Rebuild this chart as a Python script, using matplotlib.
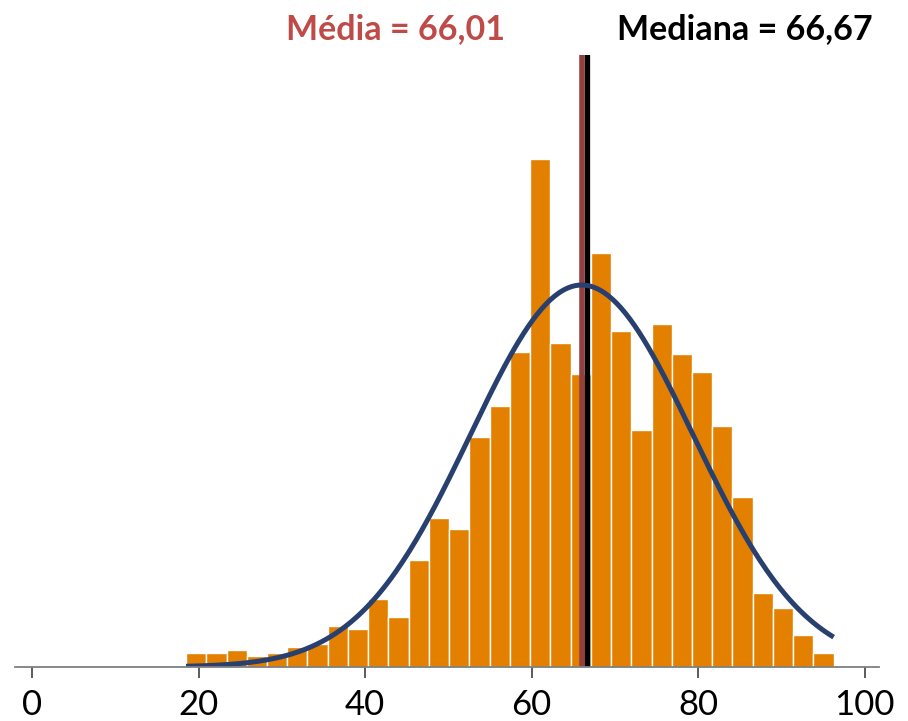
import numpy as np
import matplotlib
matplotlib.use("Agg")
import matplotlib.pyplot as plt

# histogram data
bin_start = 18.5
bin_width = 2.43
counts = [4.6, 4.6, 5.6, 3.6, 4.6, 6.6, 7.6, 13.6, 12.7, 22.6, 16.6, 35.8,
          49.8, 45.9, 76.7, 87.0, 105.0, 169.2, 107.9, 97.8, 138.0, 112.0,
          79.0, 114.2, 104.2, 98.2, 80.2, 56.6, 24.7, 19.6, 10.8, 4.6]

media = 66.01
mediana = 66.67
desvio = 13.4
n_curve = 1760

xticks = [0, 20, 40, 60, 80, 100]

plt.rcParams["font.family"] = ["Lato", "DejaVu Sans"]

fig = plt.figure(figsize=(9.08, 7.21), dpi=100)
ax = fig.add_axes([0.0165, 0.0749, 0.9515, 0.8488])

counts = np.asarray(counts)
lefts = bin_start + bin_width * np.arange(len(counts))
ax.bar(lefts, counts, width=bin_width, align="edge", color="#E38000",
       edgecolor="white", linewidth=1.0, zorder=2)

# normal curve over the range of the bins
xs = np.linspace(bin_start, bin_start + bin_width * len(counts), 300)
ys = n_curve * bin_width / (desvio * np.sqrt(2 * np.pi)) * np.exp(-0.5 * ((xs - media) / desvio) ** 2)
ax.plot(xs, ys, color="#28406F", lw=3.6, solid_capstyle="butt", zorder=4)

ax.axvline(media, color="#943F3F", lw=4.0, zorder=3)
ax.axvline(mediana, color="black", lw=3.8, zorder=3)

ax.set_xlim(-2.04, 101.7)
ax.set_ylim(0, 204)
ax.set_xticks(xticks)
ax.set_xticklabels([str(t) for t in xticks])
ax.set_yticks([])
for s in ("left", "right", "top"):
    ax.spines[s].set_visible(False)
ax.spines["bottom"].set_color("#7F7F7F")
ax.spines["bottom"].set_linewidth(1.3)
ax.spines["bottom"].set_zorder(5)
ax.tick_params(axis="x", direction="out", length=8, width=1.2, color="#404040",
               labelsize=25, pad=8, labelcolor="black")

fig.text(505 / 908, 1 - 29 / 721, f"Média = {media:.2f}".replace(".", ","),
         ha="right", va="center", fontsize=24.5, fontweight="bold", color="#BE4B48")
fig.text(617 / 908, 1 - 29 / 721, f"Mediana = {mediana:.2f}".replace(".", ","),
         ha="left", va="center", fontsize=24.5, fontweight="bold", color="black")

fig.savefig("out.png", dpi=100)
